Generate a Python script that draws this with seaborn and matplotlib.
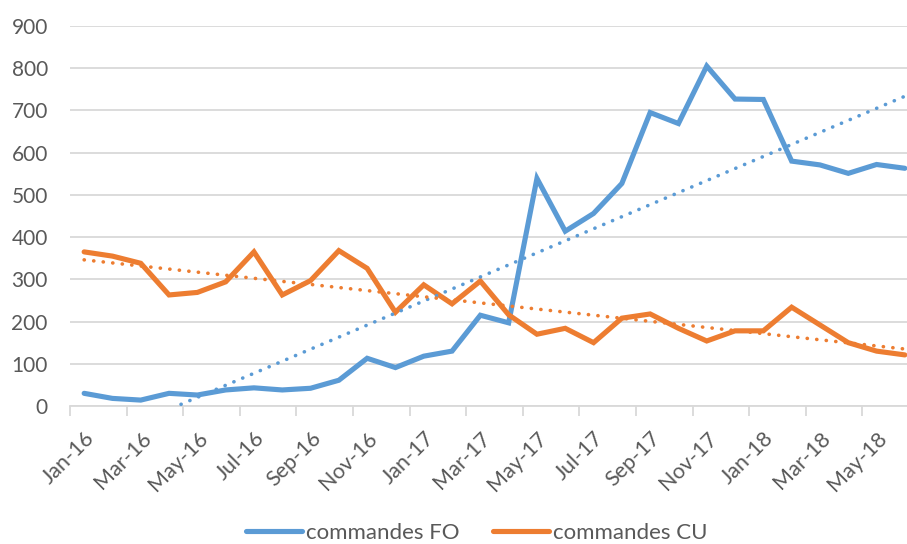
import numpy as np
import pandas as pd
import matplotlib
matplotlib.use("Agg")
import matplotlib.pyplot as plt
from matplotlib.ticker import FixedLocator, NullFormatter
import seaborn as sns

# Monthly order counts, Jan 2016 – Jun 2018
months = ["Jan-16", "Feb-16", "Mar-16", "Apr-16", "May-16", "Jun-16",
          "Jul-16", "Aug-16", "Sep-16", "Oct-16", "Nov-16", "Dec-16",
          "Jan-17", "Feb-17", "Mar-17", "Apr-17", "May-17", "Jun-17",
          "Jul-17", "Aug-17", "Sep-17", "Oct-17", "Nov-17", "Dec-17",
          "Jan-18", "Feb-18", "Mar-18", "Apr-18", "May-18", "Jun-18"]
commandes_fo = [30, 18, 14, 30, 26, 38, 43, 38, 42, 61, 113, 91, 118, 130,
                215, 197, 539, 414, 456, 527, 695, 669, 805, 727, 726, 580,
                571, 551, 572, 563]
commandes_cu = [365, 355, 338, 263, 269, 294, 365, 263, 297, 368, 326, 222,
                287, 242, 296, 216, 170, 184, 150, 208, 218, 184, 154, 178,
                178, 234, 192, 150, 130, 121]
series_names = ["commandes FO", "commandes CU"]
colors = ["#5B9BD5", "#ED7D31"]

df = pd.DataFrame({"idx": np.arange(len(months)), "mois": months,
                   series_names[0]: commandes_fo, series_names[1]: commandes_cu})
long = df.melt(id_vars=["idx", "mois"], value_vars=series_names,
               var_name="serie", value_name="valeur")

sns.set_style("white")
plt.rcParams["font.family"] = ["Lato", "DejaVu Sans"]
text_color = "#595959"

W, H = 907, 544
fig = plt.figure(figsize=(W / 100, H / 100), dpi=100)
left, right, top, bottom = 70, 919, 26, 406
ax = fig.add_axes([left / W, 1 - bottom / H, (right - left) / W, (bottom - top) / H])

sns.lineplot(data=long, x="idx", y="valeur", hue="serie", palette=colors,
             hue_order=series_names, linewidth=3.7, ax=ax, legend=False,
             solid_joinstyle="miter", zorder=3)

# Linear trend lines for each series
for name, col in zip(series_names, colors):
    sns.regplot(data=df, x="idx", y=name, scatter=False, ci=None, truncate=True,
                ax=ax, color=col,
                line_kws=dict(linewidth=2.6, linestyle=(0, (0.05, 2.6)),
                              dash_capstyle="round", zorder=4))

ax.set_xlim(-0.5, len(months) - 0.5)
ax.set_ylim(0, 900)
ax.set_yticks(np.arange(0, 1000, 100))
ax.yaxis.grid(True, color="#d9d9d9", linewidth=1.3)
ax.xaxis.grid(False)
ax.set_axisbelow(True)

ax.set_xticks(np.arange(0, len(months), 2))
ax.set_xticklabels(months[::2], rotation=45, ha="right", rotation_mode="anchor")
ax.xaxis.set_minor_locator(FixedLocator(np.arange(-0.5, len(months), 2)))
ax.xaxis.set_minor_formatter(NullFormatter())
ax.tick_params(axis="x", which="major", length=0, pad=16, labelsize=15.5,
               labelcolor=text_color)
ax.tick_params(axis="x", which="minor", length=7, width=1.3, color="#d9d9d9",
               bottom=True)
ax.tick_params(axis="y", length=0, pad=16, labelsize=15, labelcolor=text_color)

for s in ["top", "right", "left"]:
    ax.spines[s].set_visible(False)
ax.spines["bottom"].set_color("#d9d9d9")
ax.spines["bottom"].set_linewidth(1.3)
ax.set_xlabel("")
ax.set_ylabel("")

handles = [plt.Line2D([], [], color=c, linewidth=3.7, solid_capstyle="round")
           for c in colors]
fig.legend(handles, series_names, loc="center", bbox_to_anchor=(477 / W, 1 - 533 / H),
           ncol=2, frameon=False, fontsize=16, labelcolor=text_color,
           handlelength=2.5, handletextpad=0.2, columnspacing=1.5)

fig.savefig("out.png", dpi=100)
